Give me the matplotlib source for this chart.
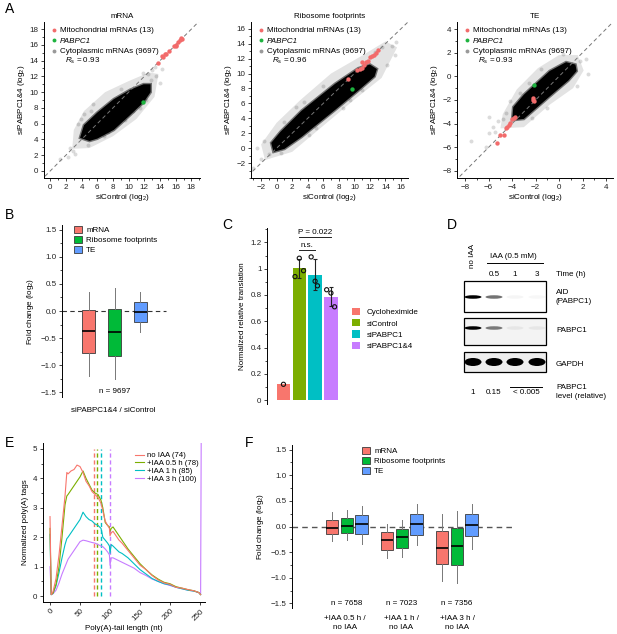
import matplotlib
matplotlib.use('Agg')
import matplotlib.pyplot as plt
from matplotlib.patches import Patch, Rectangle, Ellipse
from matplotlib.lines import Line2D
from matplotlib.ticker import MultipleLocator, FuncFormatter

plt.rcParams['font.family'] = ['Liberation Sans', 'DejaVu Sans']
plt.rcParams['mathtext.fontset'] = 'custom'
plt.rcParams['mathtext.rm'] = 'Liberation Sans'
plt.rcParams['mathtext.it'] = 'Liberation Sans:italic'
plt.rcParams['font.size'] = 5.8
plt.rcParams['axes.linewidth'] = 0.7

# ---------------- DATA ----------------
# Panel A: mRNA (dense cloud outline, sparse outliers, highlighted genes)
mrna_core_x = [3.8, 5.0, 6.0, 8.1, 10.2, 11.9, 12.8, 12.8, 11.9, 10.2, 8.1, 6.0, 4.3]
mrna_core_y = [4.2, 3.8, 4.1, 5.2, 7.1, 8.7, 10.0, 11.0, 11.0, 10.3, 9.1, 7.4, 5.8]
mrna_halo_x = [2.8, 5.0, 8.0, 11.0, 13.3, 13.8, 12.6, 10.0, 7.0, 4.3, 3.0]
mrna_halo_y = [2.8, 2.9, 4.4, 6.6, 9.4, 12.3, 12.5, 11.4, 10.0, 7.6, 5.2]
mrna_out_x = [1.2, 2.2, 2.9, 3.2, 4.3, 5.5, 12.5, 13.0, 13.5, 11.5, 10.6, 9.5, 6.8, 14.0, 3.6, 4.8, 12.9,
              13.3, 2.5, 3.9, 5.2, 7.4, 9.0, 11.8, 14.3, 12.2]
mrna_out_y = [1.5, 1.8, 2.5, 2.2, 7.2, 8.5, 12.3, 12.8, 12.0, 8.0, 7.6, 6.4, 4.4, 11.2, 5.9, 3.3, 11.6,
              13.2, 2.9, 6.6, 7.6, 4.9, 10.4, 12.4, 12.9, 9.0]
mrna_mito_x = [13.8, 14.3, 14.4, 14.6, 14.8, 15.1, 15.8, 16.0, 16.1, 16.3, 16.5, 16.7, 16.8]
mrna_mito_y = [13.7, 14.6, 14.5, 14.8, 14.8, 15.2, 15.8, 16.0, 15.9, 16.3, 16.6, 16.9, 16.8]
mrna_pabpc1 = (11.8, 8.8)
mrna_rs = 0.93

# Panel A: Ribosome footprints
ribo_core_x = [-0.4, 1.0, 3.2, 7.5, 10.5, 12.6, 12.9, 12.0, 10.5, 7.5, 3.2, 0.5, -0.7]
ribo_core_y = [-0.5, -0.1, 1.5, 5.1, 7.7, 9.6, 10.6, 11.2, 10.7, 8.6, 5.0, 2.2, 0.7]
ribo_halo_x = [-1.5, 2.0, 6.0, 10.0, 13.5, 15.5, 14.0, 11.0, 7.0, 3.0, 0.0, -2.0]
ribo_halo_y = [-1.6, -0.5, 3.0, 6.5, 9.4, 13.5, 14.3, 12.4, 10.0, 6.4, 3.4, 0.5]
ribo_out_x = [-3.0, -2.0, -1.0, 0.5, 1.0, 3.5, 15.4, 14.8, 13.5, 15.2, 9.5, 11.0, 2.0, 5.0, 2.5, -2.5,
              -1.6, 4.2, 6.0, 8.6, 12.6, 14.2]
ribo_out_y = [-2.7, -1.4, -0.8, -0.6, 3.5, 6.2, 14.2, 13.7, 13.6, 12.5, 6.5, 7.8, 2.3, 2.7, 5.5, 0.0,
              0.9, 1.8, 8.3, 5.4, 12.9, 11.2]
ribo_mito_x = [9.2, 10.3, 10.7, 11.0, 11.2, 11.5, 11.8, 12.0, 12.3, 12.5, 12.8, 13.0, 11.0]
ribo_mito_y = [9.2, 10.5, 10.6, 10.8, 11.2, 11.6, 11.7, 12.2, 12.4, 12.5, 12.8, 13.2, 11.5]
ribo_pabpc1 = (9.7, 7.9)
ribo_rs = 0.96

# Panel A: TE
te_core_x = [-4.0, -3.0, -0.8, 0.8, 1.5, 1.4, 0.6, -0.8, -3.0, -3.9]
te_core_y = [-3.7, -3.6, -1.7, -0.35, 0.45, 1.0, 1.2, 0.45, -1.55, -2.6]
te_halo_x = [-5.0, -3.0, -0.8, 1.2, 2.1, 1.6, 0.0, -1.8, -3.6, -4.8]
te_halo_y = [-4.4, -4.3, -2.4, -1.0, 0.5, 1.8, 1.8, 0.7, -1.1, -3.2]
te_out_x = [-7.5, -6.2, -6.0, -5.5, -5.6, -4.8, -4.5, -3.3, -5.2, -6.0, 1.8, 2.3, -1.5, 1.5, -1.0, -2.3,
            -4.2, -2.6, 0.3, 2.5]
te_out_y = [-5.5, -6.0, -3.4, -4.7, -4.3, -3.6, -3.1, -1.4, -3.8, -4.8, 1.3, 1.5, 0.6, -0.8, -2.7, -3.5,
            -2.1, -0.6, 1.9, 0.2]
te_mito_x = [-5.3, -5.0, -4.7, -4.5, -4.4, -4.3, -4.2, -4.0, -3.85, -3.75, -2.2, -2.2, -2.15]
te_mito_y = [-5.6, -4.95, -5.0, -4.4, -4.3, -4.1, -3.95, -3.6, -3.5, -3.45, -1.85, -2.0, -2.05]
te_pabpc1 = (-2.1, -0.75)
te_rs = 0.93

# Panel B: box stats (siPABPC1&4 / siControl)
b_labels = ['mRNA', 'Ribosome footprints', 'TE']
b_whislo = [-1.20, -1.26, -0.38]
b_q1 = [-0.78, -0.84, -0.20]
b_med = [-0.37, -0.39, -0.02]
b_q3 = [0.01, 0.03, 0.16]
b_whishi = [0.35, 0.42, 0.35]
b_n = 9697

# Panel C
c_labels = ['Cycloheximide', 'siControl', 'siPABPC1', 'siPABPC1&4']
c_reps = [[0.12], [0.94, 1.08, 0.985], [1.09, 0.905, 0.87], [0.84, 0.815, 0.71]]

# Panel D: band intensities (relative)
d_lanes = ['no IAA', '0.5', '1', '3']
d_aid = [1.0, 0.55, 0.04, 0.03]
d_pabpc1 = [1.0, 0.5, 0.05, 0.05]
d_gapdh = [1.0, 1.0, 1.0, 1.0]

# Panel E: poly(A) tail length distributions
e_labels = ['no IAA (74)', '+IAA 0.5 h (78)', '+IAA 1 h (85)', '+IAA 3 h (100)']
e_means = [74, 78, 85, 100]
e_x = [0, 2, 5, 10, 15, 20, 25, 28, 30, 35, 40, 45, 50, 55, 60, 65, 70, 75, 80, 85, 88, 92, 96, 99,
       100, 102, 105, 110, 115, 120, 130, 140, 150, 160, 170, 180, 190, 200, 210, 220, 230, 240, 248, 251]
e_noiaa = [2.7, 0.05, 0.15, 0.6, 1.4, 2.4, 3.4, 4.2, 4.15, 4.25, 4.3, 4.45, 4.4, 4.2, 3.9, 3.75, 3.55, 3.45,
           3.35, 3.15, 2.9, 2.55, 2.4, 2.3, 2.05, 2.15, 2.2, 2.05, 1.9, 1.8, 1.55, 1.3, 1.05, 0.9, 0.7, 0.55,
           0.45, 0.4, 0.3, 0.27, 0.22, 0.18, 0.12, 0.05]
e_iaa05 = [2.3, 0.05, 0.1, 0.4, 1.0, 2.0, 3.1, 3.4, 3.45, 3.6, 3.75, 3.9, 4.05, 4.25, 4.0, 3.8, 3.6, 3.5,
           3.45, 3.25, 3.0, 2.5, 2.4, 2.35, 2.2, 2.3, 2.35, 2.2, 2.05, 1.9, 1.6, 1.35, 1.1, 0.9, 0.72, 0.58,
           0.47, 0.42, 0.32, 0.27, 0.22, 0.18, 0.12, 0.05]
e_iaa1 = [2.1, 0.05, 0.1, 0.35, 0.8, 1.3, 1.75, 1.95, 2.0, 2.15, 2.3, 2.45, 2.6, 2.85, 2.7, 2.6, 2.55, 2.45,
          2.4, 2.3, 2.0, 1.9, 1.8, 1.7, 1.45, 1.75, 1.7, 1.6, 1.5, 1.45, 1.3, 1.1, 0.9, 0.75, 0.6, 0.5,
          0.42, 0.38, 0.3, 0.25, 0.2, 0.17, 0.12, 0.05]
e_iaa3 = [1.0, 0.05, 0.08, 0.2, 0.45, 0.75, 1.0, 1.15, 1.25, 1.4, 1.55, 1.7, 1.85, 1.9, 1.88, 1.85, 1.82, 1.8,
          1.75, 1.7, 1.68, 1.6, 1.5, 1.4, 1.05, 1.3, 1.3, 1.25, 1.2, 1.15, 1.05, 0.95, 0.8, 0.7, 0.58, 0.5,
          0.42, 0.36, 0.3, 0.25, 0.2, 0.17, 0.12, 0.05]
e_iaa3_end_x = [252]
e_iaa3_end_y = [5.5]

# Panel F: box stats
f_groups = ['+IAA 0.5 h /\nno IAA', '+IAA 1 h /\nno IAA', '+IAA 3 h /\nno IAA']
f_n = [7658, 7023, 7356]
f_whislo = [[-0.29, -0.26, -0.34], [-0.61, -0.60, -0.37], [-1.07, -1.10, -0.43]]
f_q1 = [[-0.15, -0.12, -0.15], [-0.45, -0.42, -0.16], [-0.74, -0.75, -0.19]]
f_med = [[-0.02, 0.01, 0.05], [-0.27, -0.21, 0.05], [-0.41, -0.38, 0.03]]
f_q3 = [[0.13, 0.16, 0.22], [-0.11, -0.05, 0.25], [-0.08, -0.02, 0.24]]
f_whishi = [[0.28, 0.32, 0.40], [0.05, 0.13, 0.44], [0.25, 0.31, 0.44]]

# ---------------- STYLE ----------------
RED = '#F26B6B'
PGREEN = '#1DB33F'
BOX_COLS = ['#F8766D', '#00BA38', '#619CFF']
C_COLS = ['#F8766D', '#7CAE00', '#00BFC4', '#C77CFF']
W, H = 617, 634
fig = plt.figure(figsize=(W / 100, H / 100), dpi=100)


def px_axes(l, t, r, b):
    return fig.add_axes([l / W, 1 - b / H, (r - l) / W, (b - t) / H])


def fig_xy(x, y):
    return (x / W, 1 - y / H)


ov = fig.add_axes([0, 0, 1, 1])
ov.set_xlim(0, W)
ov.set_ylim(H, 0)
ov.axis('off')


def style_ax(ax, bottom=True):
    ax.spines['top'].set_visible(False)
    ax.spines['right'].set_visible(False)
    if not bottom:
        ax.spines['bottom'].set_visible(False)
        ax.tick_params(axis='x', which='both', bottom=False, labelbottom=False)
    ax.tick_params(which='major', length=2.5, width=0.6, pad=1.5, labelsize=5.8, colors='#222222')
    ax.tick_params(which='minor', length=1.5, width=0.5)
    ax.patch.set_visible(False)


def scatter_panel(box, title, xlim, ylim, tick0, core_x, core_y, halo_x, halo_y,
                  out_x, out_y, mito_x, mito_y, pab, rs):
    ax = px_axes(*box)
    style_ax(ax)
    ax.set_xlim(*xlim)
    ax.set_ylim(*ylim)
    ax.fill(halo_x, halo_y, fc=(0, 0, 0, 0.11), ec='none', lw=0, zorder=1)
    ax.scatter(out_x, out_y, s=8, color='black', alpha=0.14, lw=0, zorder=1)
    ax.fill(core_x, core_y, fc='black', ec=(0, 0, 0, 0.5), lw=2, zorder=2)
    lo = min(xlim[0], ylim[0]) - 1
    hi = max(xlim[1], ylim[1]) + 1
    ax.plot([lo, hi], [lo, hi], ls=(0, (4, 3)), color='#777777', lw=0.7, zorder=3)
    ax.scatter(mito_x, mito_y, s=10, color=RED, lw=0, zorder=4)
    ax.scatter([pab[0]], [pab[1]], s=10, color=PGREEN, lw=0, zorder=4)
    ax.xaxis.set_minor_locator(MultipleLocator(1))
    ax.yaxis.set_minor_locator(MultipleLocator(1))
    ax.set_xticks([t for t in range(tick0[0], tick0[1] + 1, 2)])
    ax.set_yticks([t for t in range(tick0[2], tick0[3] + 1, 2)])
    ax.set_title(title, fontsize=5.8, pad=3)
    ax.set_xlabel('siControl (log$_2$)', fontsize=5.8, labelpad=1)
    ax.set_ylabel('siPABPC1&4 (log$_2$)', fontsize=5.8, labelpad=2)
    handles = [Line2D([], [], marker='o', ls='', color=RED, markersize=2.8, markeredgewidth=0),
               Line2D([], [], marker='o', ls='', color=PGREEN, markersize=2.8, markeredgewidth=0),
               Line2D([], [], marker='o', ls='', color='#999999', markersize=2.8, markeredgewidth=0)]
    leg = ax.legend(handles, ['Mitochondrial mRNAs (13)', 'PABPC1', 'Cytoplasmic mRNAs (9697)'],
                    loc='upper left', bbox_to_anchor=(0.01, 1.0), frameon=False, fontsize=5.8,
                    handlelength=1.0, handletextpad=0.2, labelspacing=0.35, borderpad=0.1)
    leg.get_texts()[1].set_fontstyle('italic')
    ax.text(0.135, 0.75, r'$R_\mathrm{s}$ = %.2f' % rs, transform=ax.transAxes, fontsize=5.8, va='center')
    return ax


scatter_panel((44, 22, 200, 178), 'mRNA', (-0.8, 19.1), (-0.9, 18.9), (0, 18, 0, 18),
              mrna_core_x, mrna_core_y, mrna_halo_x, mrna_halo_y, mrna_out_x, mrna_out_y,
              mrna_mito_x, mrna_mito_y, mrna_pabpc1, mrna_rs)
scatter_panel((251, 22, 408, 178), 'Ribosome footprints', (-3.3, 16.9), (-4.0, 16.9), (-2, 16, -2, 16),
              ribo_core_x, ribo_core_y, ribo_halo_x, ribo_halo_y, ribo_out_x, ribo_out_y,
              ribo_mito_x, ribo_mito_y, ribo_pabpc1, ribo_rs)
scatter_panel((457, 22, 613, 178), 'TE', (-8.7, 4.6), (-8.6, 4.6), (-8, 4, -8, 4),
              te_core_x, te_core_y, te_halo_x, te_halo_y, te_out_x, te_out_y,
              te_mito_x, te_mito_y, te_pabpc1, te_rs)


def box_axes(ax, stats_list, positions, colors, width):
    bp = ax.bxp(stats_list, positions=positions, widths=width, patch_artist=True, showfliers=False,
                showcaps=False,
                boxprops=dict(edgecolor='#3a3a3a', lw=0.6),
                medianprops=dict(color='black', lw=1.2),
                whiskerprops=dict(color='#777777', lw=0.7))
    for p, c in zip(bp['boxes'], colors):
        p.set_facecolor(c)
    return bp


def fold_axis(ax):
    ax.set_ylim(-1.59, 1.59)
    ax.yaxis.set_major_locator(MultipleLocator(0.5))
    ax.yaxis.set_minor_locator(MultipleLocator(0.25))
    ax.yaxis.set_major_formatter(FuncFormatter(lambda v, p: ('%.1f' % v).replace('-', '\u2212')))
    ax.set_ylabel('Fold change (log$_2$)', fontsize=5.8, labelpad=3)


# ---------------- Panel B ----------------
axB = px_axes(62, 225, 170, 397)
style_ax(axB, bottom=False)
fold_axis(axB)
axB.set_xlim(-0.04, 4.15)
statsB = [dict(med=b_med[i], q1=b_q1[i], q3=b_q3[i], whislo=b_whislo[i], whishi=b_whishi[i])
          for i in range(3)]
axB.axhline(0, xmin=0, xmax=(4.0 + 0.04) / 4.19, ls=(0, (4, 3)), color='#333333', lw=0.8, zorder=0)
box_axes(axB, statsB, [1, 2, 3], BOX_COLS, 0.5)
axB.text(2, -1.49, 'n = %d' % b_n, ha='center', va='center', fontsize=5.8)
hB = [Patch(fc=c, ec='#3a3a3a', lw=0.6) for c in BOX_COLS]
axB.legend(hB, b_labels, loc='upper left', bbox_to_anchor=fig_xy(70, 222), bbox_transform=fig.transFigure,
           frameon=False, fontsize=5.8, handlelength=1.0, handleheight=0.9, handletextpad=0.5,
           labelspacing=0.22, borderpad=0)

# ---------------- Panel C ----------------
axC = px_axes(267, 228, 342, 404)
style_ax(axC, bottom=False)
axC.set_xlim(-1.04, 3.7)
axC.set_ylim(-0.03, 1.31)
c_means = [sum(r) / len(r) for r in c_reps]
c_sds = []
for r in c_reps:
    m = sum(r) / len(r)
    c_sds.append((sum((v - m) ** 2 for v in r) / (len(r) - 1)) ** 0.5 if len(r) > 1 else 0.0)
axC.bar(range(4), c_means, width=0.85, color=C_COLS, zorder=1)
for i in range(1, 4):
    axC.errorbar(i, c_means[i], yerr=c_sds[i], color='#222222', lw=0.8, capsize=1.5, capthick=0.8, zorder=2)
jit = [[0.0], [-0.27, 0.0, 0.27], [-0.25, 0.0, 0.15], [-0.27, 0.0, 0.23]]
for i, r in enumerate(c_reps):
    axC.scatter([i + j for j in jit[i]], r, s=9, facecolor='none', edgecolor='#111111', lw=0.8, zorder=3)
axC.yaxis.set_major_locator(MultipleLocator(0.2))
axC.yaxis.set_minor_locator(MultipleLocator(0.1))
axC.yaxis.set_major_formatter(FuncFormatter(lambda v, p: '%g' % round(v, 2)))
axC.set_ylabel('Normalized relative translation', fontsize=5.8, labelpad=3)
axC.plot([1, 2], [1.139, 1.139], color='#222222', lw=0.7, clip_on=False)
axC.text(1.5, 1.15, 'n.s.', ha='center', va='bottom', fontsize=5.8)
axC.plot([1, 3], [1.238, 1.238], color='#222222', lw=0.7, clip_on=False)
axC.text(2, 1.249, 'P = 0.022', ha='center', va='bottom', fontsize=5.8)
hC = [Patch(fc=c, ec='none') for c in C_COLS]
axC.legend(hC, c_labels, loc='upper left', bbox_to_anchor=fig_xy(348, 304), bbox_transform=fig.transFigure,
           frameon=False, fontsize=5.8, handlelength=1.0, handleheight=1.0, handletextpad=0.8,
           labelspacing=0.35, borderpad=0)

# ---------------- Panel D (blot schematic) ----------------
lane_x = [473, 494, 515, 537]
blots = [(281, 312, 297, d_aid, 3.5, '#ffffff'),
         (318, 345, 328, d_pabpc1, 3.5, '#f3f3f3'),
         (352, 372, 362, d_gapdh, 8.0, '#eeeeee')]
for top, bot, yc, intens, bh, bg in blots:
    ov.add_patch(Rectangle((464, top), 82, bot - top, fc=bg, ec='black', lw=0.9))
    for lx, v in zip(lane_x, intens):
        ov.add_patch(Ellipse((lx, yc), 17, bh, fc='black', alpha=min(1.0, v), lw=0))
ov.text(473, 256, 'no IAA', rotation=90, ha='center', va='center', fontsize=5.8)
ov.text(513, 257, 'IAA (0.5 mM)', ha='center', va='center', fontsize=5.8)
ov.plot([487, 543], [263, 263], color='black', lw=0.7)
for lx, lab in zip(lane_x[1:], d_lanes[1:]):
    ov.text(lx, 274, lab, ha='center', va='center', fontsize=5.8)
ov.text(556, 274, 'Time (h)', ha='left', va='center', fontsize=5.8)
ov.text(556, 297, 'AID\n(PABPC1)', ha='left', va='center', fontsize=5.8, linespacing=1.3)
ov.text(556, 331, 'PABPC1', ha='left', va='center', fontsize=5.8)
ov.text(556, 365, 'GAPDH', ha='left', va='center', fontsize=5.8)
ov.text(473, 393, '1', ha='center', va='center', fontsize=5.8)
ov.text(494, 393, '0.15', ha='center', va='center', fontsize=5.8)
ov.text(526, 393, '< 0.005', ha='center', va='center', fontsize=5.8)
ov.plot([510, 542], [387, 387], color='black', lw=0.7)
ov.text(556, 392, 'PABPC1\nlevel (relative)', ha='left', va='center', fontsize=5.8, linespacing=1.3)

# ---------------- Panel E ----------------
axE = px_axes(43, 443, 205, 602)
style_ax(axE)
axE.set_xlim(-11.7, 258.3)
axE.set_ylim(-0.2, 5.2)
e_series = [e_noiaa, e_iaa05, e_iaa1, e_iaa3]
for i, ys in enumerate(e_series):
    xs = list(e_x)
    yv = list(ys)
    if i == 3:
        xs += e_iaa3_end_x
        yv += e_iaa3_end_y
    axE.plot(xs, yv, color=C_COLS[i], lw=0.8, label=e_labels[i], zorder=3 - i * 0.1)
for i, m in enumerate(e_means):
    axE.plot([m, m], [0, 5.0], color=C_COLS[i], lw=1.0, ls=(0, (3, 2)), zorder=1)
axE.set_xticks([0, 50, 100, 150, 200, 250])
axE.tick_params(axis='x', labelrotation=45)
for t in axE.get_xticklabels():
    t.set_ha('right')
    t.set_rotation_mode('anchor')
axE.yaxis.set_major_locator(MultipleLocator(1))
axE.yaxis.set_minor_locator(MultipleLocator(0.5))
axE.set_xlabel('Poly(A)-tail length (nt)', fontsize=5.8, labelpad=2)
axE.set_ylabel('Normalized poly(A) tags', fontsize=5.8, labelpad=3)
axE.legend(loc='upper left', bbox_to_anchor=fig_xy(131, 448), bbox_transform=fig.transFigure,
           frameon=False, fontsize=5.6, handlelength=1.2, handletextpad=0.35, labelspacing=0.05,
           borderpad=0)

# ---------------- Panel F ----------------
axF = px_axes(292, 445, 520, 608)
style_ax(axF, bottom=False)
fold_axis(axF)
axF.set_xlim(0, 4.15)
axF.axhline(0, xmin=0, xmax=4.02 / 4.15, ls=(0, (4, 3)), color='#555555', lw=1.0, zorder=0)
off = [-0.27, 0.0, 0.27]
for g in range(3):
    st = [dict(med=f_med[g][k], q1=f_q1[g][k], q3=f_q3[g][k], whislo=f_whislo[g][k], whishi=f_whishi[g][k])
          for k in range(3)]
    box_axes(axF, st, [g + 1 + o for o in off], BOX_COLS, 0.23)
    axF.text(g + 1, -1.5, 'n = %d' % f_n[g], ha='center', va='center', fontsize=5.8)
    ov.text(345 + g * 56, 623, f_groups[g], ha='center', va='center', fontsize=5.8, linespacing=1.25)
hF = [Patch(fc=c, ec='#3a3a3a', lw=0.6) for c in BOX_COLS]
axF.legend(hF, b_labels, loc='upper left', bbox_to_anchor=fig_xy(358, 443), bbox_transform=fig.transFigure,
           frameon=False, fontsize=5.8, handlelength=1.0, handleheight=0.9, handletextpad=0.5,
           labelspacing=0.22, borderpad=0)

# B x-caption
ov.text(113, 411, 'siPABPC1&4 / siControl', ha='center', va='center', fontsize=5.8)

# Panel letters
for lab, x, y in [('A', 5, 9), ('B', 5, 215), ('C', 222, 225), ('D', 447, 225), ('E', 5, 443), ('F', 245, 443)]:
    ov.text(x, y, lab, fontsize=10, ha='left', va='center')

fig.savefig('out.png', dpi=100)
